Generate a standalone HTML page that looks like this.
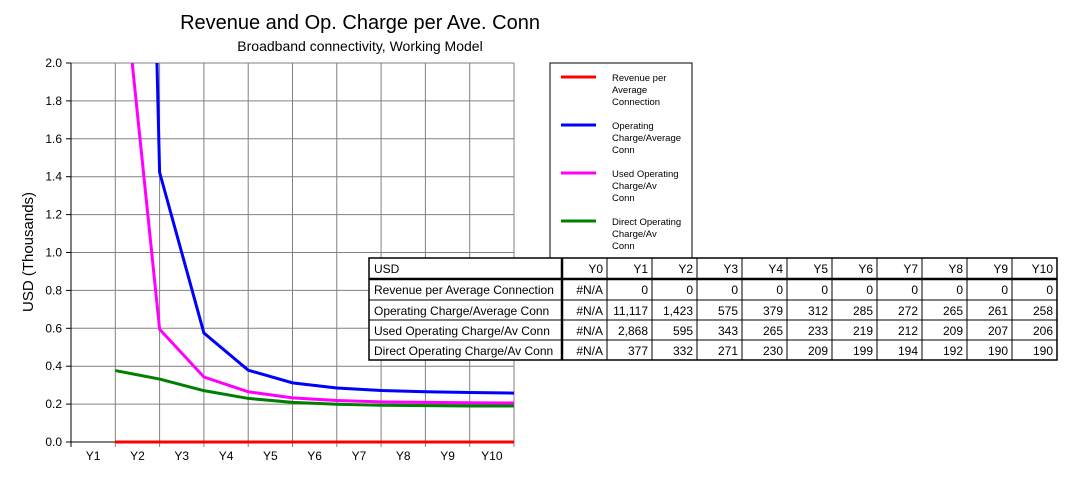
<!DOCTYPE html>
<html><head><meta charset="utf-8"><style>
body{margin:0;background:#fff;width:1069px;height:477px;overflow:hidden;font-family:"Liberation Sans",Arial,sans-serif}
svg text{font-family:"Liberation Sans",Arial,sans-serif}
</style></head><body>
<svg id="chart" width="1069" height="477" xmlns="http://www.w3.org/2000/svg">
<text x="360" y="29" font-size="20" text-anchor="middle">Revenue and Op. Charge per Ave. Conn</text>
<text x="360" y="51" font-size="14" text-anchor="middle">Broadband connectivity, Working Model</text>
<text transform="translate(33,252) rotate(-90)" font-size="15" text-anchor="middle">USD  (Thousands)</text>
<g id="grid"></g><g id="series"></g><g id="legend"></g><g id="table"></g>
</svg>
<script>
const categories=["Y1","Y2","Y3","Y4","Y5","Y6","Y7","Y8","Y9","Y10"];
const yTicks=[0,0.2,0.4,0.6,0.8,1.0,1.2,1.4,1.6,1.8,2.0];
const revenue=[0,0,0,0,0,0,0,0,0,0];
const opCharge=[11117,1423,575,379,312,285,272,265,261,258];
const usedOp=[2868,595,343,265,233,219,212,209,207,206];
const directOp=[377,332,271,230,209,199,194,192,190,190];
const seriesNames=["Revenue per Average Connection","Operating Charge/Average Conn","Used Operating Charge/Av Conn","Direct Operating Charge/Av Conn"];
const legendLabels=[["Revenue per","Average","Connection"],["Operating","Charge/Average","Conn"],["Used Operating","Charge/Av","Conn"],["Direct Operating","Charge/Av","Conn"]];
const colors=["#ff0000","#0000ff","#ff00ff","#008000"];
const tableCols=["Y0","Y1","Y2","Y3","Y4","Y5","Y6","Y7","Y8","Y9","Y10"];
const NS="http://www.w3.org/2000/svg";
const L=71,R=514,T=63,B=442,yMax=2.0;
const step=(R-L)/10;
function xPt(i){return L+step*(i+1);}
function xLab(i){return L+step*(i+0.5);}
function yPos(v){return B-(v/1000)/yMax*(B-T);}
function mk(tag,attrs,parent){const e=document.createElementNS(NS,tag);for(const k in attrs)e.setAttribute(k,attrs[k]);parent.appendChild(e);return e;}
const grid=document.getElementById('grid');
const defs=mk('defs',{},grid);
const cp=mk('clipPath',{id:'plotclip'},defs);
mk('rect',{x:L,y:T,width:R-L+2,height:B-T+3},cp);
yTicks.forEach((t,i)=>{
  const y=B-t/yMax*(B-T);
  if(i>0){const g=mk('line',{x1:L,x2:R,y1:y,y2:y,stroke:'#808080','stroke-width':1},grid);
  
  }
  const tk=mk('line',{x1:L-5,x2:L,y1:y,y2:y,stroke:'#000'},grid);
  
  
  const tx=mk('text',{x:L-9,y:y+4,'font-size':12,'text-anchor':'end'},grid);
  tx.textContent=t.toFixed(1);
  
  
});
for(let i=0;i<=10;i++){
  const x=L+step*i;
  const g=mk('line',{x1:x,x2:x,y1:T,y2:B+5,stroke:i==0?'#000':'#808080'},grid);
  
  
}
mk('line',{x1:L,x2:R,y1:B,y2:B,stroke:'#000'},grid);
categories.forEach((c,i)=>{
  const tx=mk('text',{x:xLab(i),y:B+18,'font-size':12,'text-anchor':'middle'},grid);
  tx.textContent=c;
  
  
});
const ser=document.getElementById('series');
const data=[revenue,opCharge,usedOp,directOp];
const sNames=['revenue-line','operating-charge-line','used-operating-charge-line','direct-operating-charge-line'];
[3,2,1,0].forEach(k=>{
  const p=mk('polyline',{points:data[k].map((v,i)=>xPt(i)+','+yPos(v)).join(' '),fill:'none',stroke:colors[k],'stroke-width':3,'clip-path':'url(#plotclip)'},ser);
  
  
});
const lg=document.getElementById('legend');
const lb=mk('rect',{x:550,y:63,width:142,height:200,fill:'#fff',stroke:'#000','stroke-width':1},lg);


legendLabels.forEach((lines,k)=>{
  const y0=77+k*48;
  const ln=mk('line',{x1:561,x2:596,y1:y0,y2:y0,stroke:colors[k],'stroke-width':3},lg);
  
  
  lines.forEach((t,j)=>{
    const tx=mk('text',{x:612,y:y0+4+j*12,'font-size':9.5},lg);
    tx.textContent=t;
    
    
  });
});
const tb=document.getElementById('table');
const tx0=369,ty0=258,tw=1057,rowH=[21,21,20,20,20];
const colX=[369,562];for(let i=1;i<=11;i++)colX.push(562+45*i);
const bg=mk('rect',{x:tx0,y:ty0,width:tw-tx0,height:102,fill:'#fff',stroke:'#000','stroke-width':1.5},tb);


let ys=[ty0];rowH.forEach(h=>ys.push(ys[ys.length-1]+h));
for(let r=1;r<5;r++)mk('line',{x1:tx0,x2:tw,y1:ys[r],y2:ys[r],stroke:'#000','stroke-width':r==1?2.5:1},tb);
for(let c=1;c<12;c++)mk('line',{x1:colX[c],x2:colX[c],y1:ty0,y2:ys[5],stroke:'#000','stroke-width':c==1?2.5:1},tb);
function cell(t,x,y,anchor,name){const e=mk('text',{x:x,y:y,'font-size':12,'text-anchor':anchor},tb);e.textContent=t;
  
  }
cell('USD',tx0+5,ys[0]+15,'start','table-header-cell');
tableCols.forEach((c,i)=>cell(c,colX[i+2]-4,ys[0]+15,'end','table-header-cell'));
data.forEach((arr,r)=>{
  cell(seriesNames[r],tx0+5,ys[r+1]+15,'start','table-row-label');
  cell('#N/A',colX[2]-4,ys[r+1]+15,'end','table-cell');
  arr.forEach((v,i)=>cell(v.toLocaleString('en-US'),colX[i+3]-4,ys[r+1]+15,'end','table-cell'));
});
</script>
</body></html>
